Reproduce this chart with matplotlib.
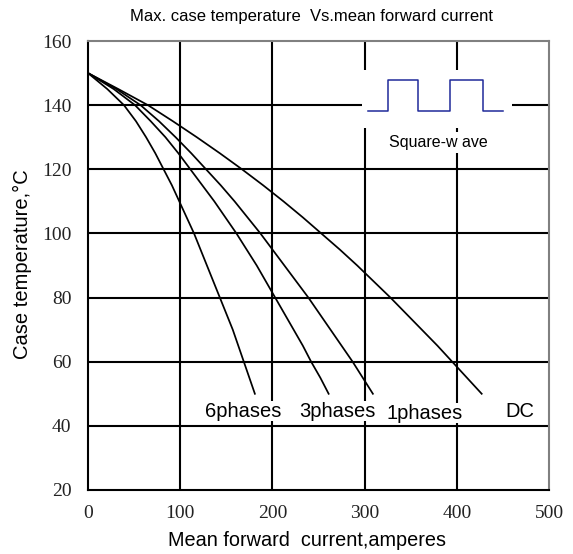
import matplotlib
matplotlib.use("Agg")
import matplotlib.pyplot as plt
from matplotlib.patches import Rectangle

# Data (case temperature vs mean forward current)
temp_levels = [150, 145, 140, 135, 130, 125, 120, 115, 110, 105, 100,
               95, 90, 85, 80, 75, 70, 65, 60, 55, 50]
current_6ph = [0, 21, 39, 52, 63, 73, 82, 91, 99, 107, 115,
               122, 129, 136, 143, 150, 157, 163, 169, 175, 181]
current_3ph = [0, 28, 51, 68, 84, 98, 111, 124, 137, 149, 161,
               172, 183, 193, 203, 213, 223, 233, 242, 252, 261]
current_1ph = [0, 31, 57, 77, 95, 112, 128, 144, 159, 173, 187,
               200, 213, 226, 239, 251, 263, 275, 287, 298, 309]
current_dc = [0, 33, 65, 92, 118, 143, 167, 190, 212, 233, 253,
              273, 292, 310, 328, 345, 362, 379, 395, 411, 427]

series_labels = ["6phases", "3phases", "1phases", "DC"]
label_x = [168, 270, 365, 468]
label_y = [44.6, 44.6, 44.0, 44.6]

x_ticks = [0, 100, 200, 300, 400, 500]
y_ticks = [20, 40, 60, 80, 100, 120, 140, 160]

# inset square wave (legend symbol)
wave_x = [304, 325, 325, 358, 358, 393, 393, 428, 428, 450]
wave_y = [138.3, 138.3, 147.7, 147.7, 138.3, 138.3, 147.7, 147.7, 138.3, 138.3]

fig = plt.figure(figsize=(5.73, 5.54), dpi=100)
ax = fig.add_axes([88 / 573, 1 - 490 / 554, (549 - 88) / 573, (490 - 41) / 554])
ax.set_xlim(0, 500)
ax.set_ylim(20, 160)
ax.set_xticks(x_ticks)
ax.set_yticks(y_ticks)

for t in x_ticks[1:-1]:
    ax.axvline(t, color="black", lw=1.5, zorder=1)
for t in y_ticks[1:-1]:
    ax.axhline(t, color="black", lw=1.5, zorder=1)

for spine in ["left", "bottom"]:
    ax.spines[spine].set_color("black")
    ax.spines[spine].set_linewidth(1.5)
for spine in ["top", "right"]:
    ax.spines[spine].set_color("#808080")
    ax.spines[spine].set_linewidth(1.5)

ax.tick_params(length=0)
ax.tick_params(axis="y", pad=12)
ax.tick_params(axis="x", pad=11)
for lab in ax.get_xticklabels() + ax.get_yticklabels():
    lab.set_fontfamily("Liberation Serif")
    lab.set_fontsize(14)
    lab.set_color("#222222")

for xs in [current_6ph, current_3ph, current_1ph, current_dc]:
    ax.plot(xs, temp_levels, color="black", lw=1.25, zorder=3,
            solid_joinstyle="round", antialiased=True)

for name, lx, ly in zip(series_labels, label_x, label_y):
    ax.text(lx, ly, name, ha="center", va="center", fontsize=14.5,
            family="Liberation Sans", color="black", zorder=5,
            bbox=dict(facecolor="white", edgecolor="none", pad=0.3))

# inset
ax.add_patch(Rectangle((297, 133), 163, 18, facecolor="white", edgecolor="none", zorder=2))
ax.plot(wave_x, wave_y, color="#1f2a9a", lw=1.1, zorder=4)
ax.text(380, 128.4, "Square-w ave", ha="center", va="center", fontsize=11.5,
        family="Liberation Sans", color="black", zorder=5,
        bbox=dict(facecolor="white", edgecolor="none", pad=2))

ax.set_xlabel("Mean forward  current,amperes", fontsize=14.3, family="Liberation Sans",
              va="center")
ax.xaxis.set_label_coords((307 - 88) / 461, (490 - 541) / 449)
ax.set_ylabel("Case temperature,\u00b0C", fontsize=14.5, family="Liberation Sans",
              va="center")
ax.yaxis.set_label_coords((22 - 88) / 461, (490 - 264) / 449)
fig.text(311 / 573, 1 - 17 / 554, "Max. case temperature  Vs.mean forward current",
         ha="center", va="center", fontsize=12, family="Liberation Sans")

fig.savefig("out.png", dpi=100, facecolor="white")
